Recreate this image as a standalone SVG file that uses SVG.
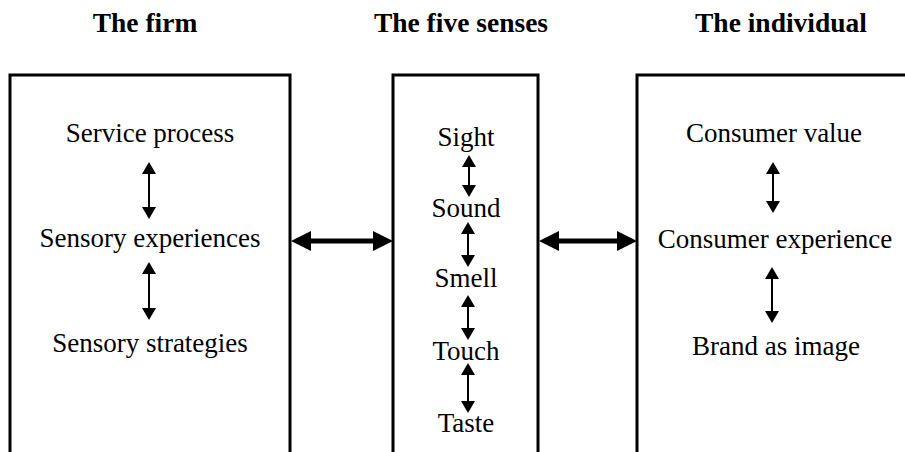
<svg xmlns="http://www.w3.org/2000/svg" width="905" height="452" viewBox="0 0 905 452">
  <style>
    .box { fill: #fff; stroke: #000; stroke-width: 3; }
    .title { font-family: "Liberation Serif", "Times New Roman", serif; font-weight: bold; font-size: 27.5px; text-anchor: middle; fill: #000; }
    .label { font-family: "Liberation Serif", "Times New Roman", serif; font-size: 27px; text-anchor: middle; fill: #000; }
    .thin { stroke: #000; stroke-width: 2; fill: none; marker-start: url(#headSmall); marker-end: url(#headSmall); }
    .thick { stroke: #000; stroke-width: 5; fill: none; marker-start: url(#headBig); marker-end: url(#headBig); }
  </style>
  <defs>
    <marker id="headSmall" markerUnits="userSpaceOnUse" viewBox="0 0 12 14" markerWidth="12" markerHeight="14" refX="5" refY="7" orient="auto-start-reverse">
      <path d="M0,0 L12,7 L0,14 z" fill="#000"/>
    </marker>
    <marker id="headBig" markerUnits="userSpaceOnUse" viewBox="0 0 20 20" markerWidth="20" markerHeight="20" refX="8" refY="10" orient="auto-start-reverse">
      <path d="M0,0 L20,10 L0,20 z" fill="#000"/>
    </marker>
  </defs>

  <rect width="905" height="452" fill="#fff"/>

  <!-- column headings -->
  <g id="headings">
    <text class="title" x="145" y="32">The firm</text>
    <text class="title" x="461" y="32">The five senses</text>
    <text class="title" x="781" y="32">The individual</text>
  </g>

  <!-- the firm -->
  <g id="firm">
    <rect class="box" x="10" y="75" width="280" height="400"/>
    <text class="label" x="150" y="142">Service process</text>
    <text class="label" x="150" y="247">Sensory experiences</text>
    <text class="label" x="150" y="352">Sensory strategies</text>
  </g>

  <!-- the five senses -->
  <g id="senses">
    <rect class="box" x="393" y="75" width="145" height="400"/>
    <text class="label" x="466" y="146">Sight</text>
    <text class="label" x="466" y="217">Sound</text>
    <text class="label" x="466" y="287">Smell</text>
    <text class="label" x="466" y="360">Touch</text>
    <text class="label" x="466" y="432">Taste</text>
  </g>

  <!-- the individual -->
  <g id="individual">
    <rect class="box" x="637" y="75" width="300" height="400"/>
    <text class="label" x="774" y="142">Consumer value</text>
    <text class="label" x="775" y="248">Consumer experience</text>
    <text class="label" x="776" y="355">Brand as image</text>
  </g>

  <!-- connectors -->
  <g id="connectors">
    <!-- firm column -->
    <line class="thin" x1="149" y1="169" x2="149" y2="212"/>
    <line class="thin" x1="149" y1="269" x2="149" y2="313"/>
    <!-- senses column -->
    <line class="thin" x1="469" y1="162" x2="469" y2="190"/>
    <line class="thin" x1="468" y1="229" x2="468" y2="260"/>
    <line class="thin" x1="468" y1="302" x2="468" y2="333"/>
    <line class="thin" x1="468" y1="370" x2="468" y2="406"/>
    <!-- individual column -->
    <line class="thin" x1="773" y1="169" x2="773" y2="206"/>
    <line class="thin" x1="772" y1="274" x2="772" y2="316"/>
    <!-- between columns -->
    <line class="thick" x1="303" y1="241" x2="381" y2="241"/>
    <line class="thick" x1="551" y1="241" x2="625" y2="241"/>
  </g>
</svg>
